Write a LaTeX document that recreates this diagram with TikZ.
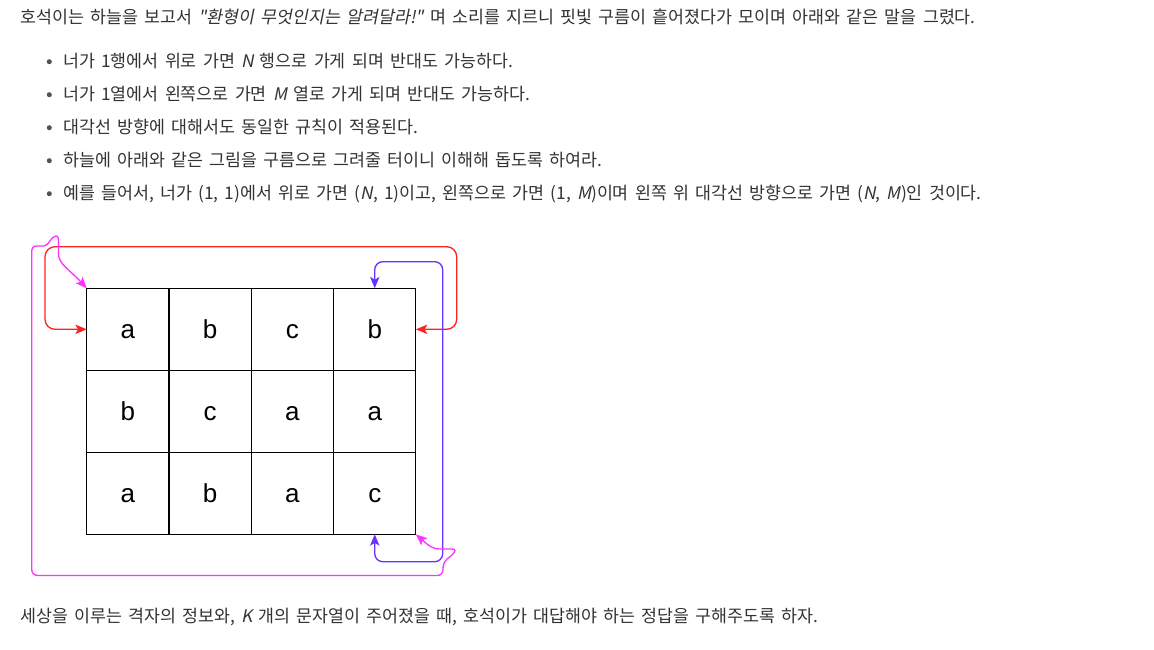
\documentclass[tikz,border=0pt]{standalone}
\usepackage{fontspec}
\setmainfont{Noto Sans CJK KR}[WordSpace=1.6]
\newfontfamily\krit{Noto Sans CJK KR}[FakeSlant=0.2,WordSpace=1.6]
\newfontfamily\cellfont{Liberation Sans}
\usetikzlibrary{arrows.meta}
\definecolor{txt}{RGB}{51,51,51}
\definecolor{redc}{RGB}{255,34,34}
\definecolor{bluec}{RGB}{102,51,255}
\definecolor{magc}{RGB}{255,51,255}
\begin{document}
\begin{tikzpicture}[x=0.75pt,y=-0.75pt,
  txtline/.style={anchor=base west, inner sep=0pt, text=txt, font=\fontsize{13pt}{15pt}\selectfont},
  bul/.style={circle, fill=txt!85, inner sep=0pt, minimum size=3.8pt},
  cell/.style={draw=black, line width=0.8pt, minimum width=61.725pt, minimum height=61.5pt, inner sep=0pt, outer sep=0pt, font=\cellfont\fontsize{19.5pt}{19.5pt}\selectfont, text height=13.5pt, text depth=0pt},
  conn/.style={line width=1pt, {Stealth[length=8.5pt,width=7pt,inset=2pt]}-{Stealth[length=8.5pt,width=7pt,inset=2pt]}},
]
\useasboundingbox[fill=white] (0,0) rectangle (1154,650);

% text
\node[txtline] (t0) at (20,23) {호석이는 하늘을 보고서 {\krit "환형이 무엇인지는 알려달라!"} 며 소리를 지르니 핏빛 구름이 흩어졌다가 모이며 아래와 같은 말을 그렸다.};
\node[bul] (b1) at (49.3,61.7) {};
\node[bul] (b2) at (49.3,94.7) {};
\node[bul] (b3) at (49.3,127.7) {};
\node[bul] (b4) at (49.3,160.7) {};
\node[bul] (b5) at (49.3,193.7) {};
\node[txtline] (t1) at (63,67) {너가 1행에서 위로 가면 {\krit N} 행으로 가게 되며 반대도 가능하다.};
\node[txtline] (t2) at (63,100) {너가 1열에서 왼쪽으로 가면 {\krit M} 열로 가게 되며 반대도 가능하다.};
\node[txtline] (t3) at (63,133) {대각선 방향에 대해서도 동일한 규칙이 적용된다.};
\node[txtline] (t4) at (63,166) {하늘에 아래와 같은 그림을 구름으로 그려줄 터이니 이해해 돕도록 하여라.};
\node[txtline] (t5) at (63,199) {예를 들어서, 너가 (1, 1)에서 위로 가면 ({\krit N}, 1)이고, 왼쪽으로 가면 (1, {\krit M})이며 왼쪽 위 대각선 방향으로 가면 ({\krit N}, {\krit M})인 것이다.};
\node[txtline] (t6) at (20,622) {세상을 이루는 격자의 정보와, {\krit K} 개의 문자열이 주어졌을 때, 호석이가 대답해야 하는 정답을 구해주도록 하자.};

% grid
\node[cell] (c11) at (127.85,329.3) {a};
\node[cell] (c12) at (210.15,329.3) {b};
\node[cell] (c13) at (292.45,329.3) {c};
\node[cell] (c14) at (374.75,329.3) {b};
\node[cell] (c21) at (127.85,411.3) {b};
\node[cell] (c22) at (210.15,411.3) {c};
\node[cell] (c23) at (292.45,411.3) {a};
\node[cell] (c24) at (374.75,411.3) {a};
\node[cell] (c31) at (127.85,493.3) {a};
\node[cell] (c32) at (210.15,493.3) {b};
\node[cell] (c33) at (292.45,493.3) {a};
\node[cell] (c34) at (374.75,493.3) {c};

% red: row wrap
\draw[conn, redc, rounded corners=7.5pt] (c11.west) -- (45,329.3) -- (45,246.7) -- (456.7,246.7) -- (456.7,329.3) -- (c14.east);
% blue: column wrap
\draw[conn, bluec, rounded corners=6pt] (c14.north) -- (374.75,261.7) -- (442.7,261.7) -- (442.7,561.7) -- (374.75,561.7) -- (c34.south);
% magenta: diagonal wrap
\draw[conn, magc] (c34.south east) .. controls (428,545) and (432,549) .. (440,549) -- (452,549)
  .. controls (456,549) and (456,551) .. (452,555) -- (447,559)
  .. controls (444,562) and (443,565) .. (443,569)
  .. controls (443,573) and (441,575.5) .. (437,575.5) -- (38,575.5)
  .. controls (34,575.5) and (31.7,573) .. (31.7,569) -- (31.7,252)
  .. controls (31.7,248) and (33,246) .. (37,246) -- (44,246)
  .. controls (49,246) and (51,236) .. (56,236)
  .. controls (58.5,236) and (58.5,239) .. (58.5,244) -- (58.5,254)
  .. controls (58.5,264) and (70,270) .. (c11.north west);
\end{tikzpicture}
\end{document}
